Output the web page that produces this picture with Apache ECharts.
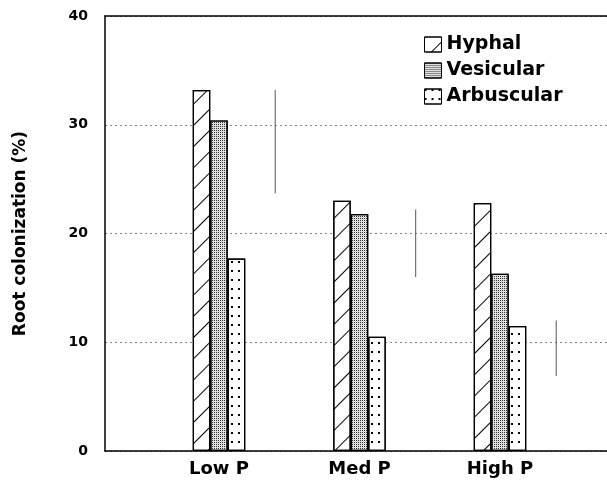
<!DOCTYPE html>
<html>
<head>
<meta charset="utf-8">
<script src="https://cdn.jsdelivr.net/npm/echarts@6/dist/echarts.min.js"></script>
<style>html,body{margin:0;padding:0;background:#fff}#c{width:607px;height:480px}</style>
</head>
<body>
<div id="c"></div>
<script>
var categories = ['Low P', 'Med P', 'High P'];
var hyphal = [33.2, 23.0, 22.8];
var vesicular = [30.4, 21.8, 16.3];
var arbuscular = [17.7, 10.5, 11.5];
var lsdLow = [23.7, 16.0, 6.9];
var lsdHigh = [33.2, 22.2, 12.0];
var yTicks = [0, 10, 20, 30, 40];
var seriesNames = ['Hyphal', 'Vesicular', 'Arbuscular'];
var FONT = 'DejaVu Sans';

var chart = echarts.init(document.getElementById('c'), null, {renderer: 'canvas'});

var barStyle = function (decal) {
  return {color: '#fff', borderColor: '#000', borderWidth: 1.2, decal: decal};
};
var decals = [
  {symbol: 'rect', symbolSize: 1, dashArrayX: [1, 0], dashArrayY: [1, 13.5], rotation: -Math.PI / 4, color: '#000'},
  {symbol: 'rect', symbolSize: 1, dashArrayX: [1, 1], dashArrayY: [1, 1], color: '#333', backgroundColor: 'rgba(0,0,0,0.12)'},
  {symbol: 'rect', symbolSize: 1, dashArrayX: [1.3, 5], dashArrayY: [1.3, 6.5], color: '#000'}
];
var dataSets = [hyphal, vesicular, arbuscular];

var series = seriesNames.map(function (n, i) {
  return {
    name: n, type: 'bar', xAxisIndex: 2, yAxisIndex: 1,
    barWidth: 17.5, barGap: '0%',
    itemStyle: barStyle(decals[i]),
    data: dataSets[i]
  };
});
series.push({
  type: 'custom', xAxisIndex: 2, yAxisIndex: 1, silent: true,
  data: categories.map(function (c, i) { return [i, lsdLow[i], lsdHigh[i]]; }),
  encode: {x: 0, y: [1, 2]},
  renderItem: function (params, api) {
    var band = api.size([1, 0])[0];
    var p1 = api.coord([api.value(0), api.value(1)]);
    var p2 = api.coord([api.value(0), api.value(2)]);
    var off = band * 0.4;
    return {type: 'line', shape: {x1: p1[0] + off, y1: p1[1], x2: p2[0] + off, y2: p2[1]},
      style: {stroke: '#555', lineWidth: 1}};
  }
});

chart.setOption({
  animation: false,
  backgroundColor: '#fff',
  textStyle: {fontFamily: FONT},
  legend: {
    orient: 'vertical', left: 424, top: 35, icon: 'rect', padding: 0,
    itemWidth: 17, itemHeight: 15, itemGap: 7,
    data: seriesNames,
    textStyle: {fontFamily: FONT, fontWeight: 'bold', fontSize: 19, color: '#000', lineHeight: 19},
    itemStyle: {borderColor: '#000', borderWidth: 1}
  },
  grid: [
    {left: 105, right: -2, top: 16, bottom: 29},
    {left: 148.75, right: 36.75, top: 16, bottom: 29}
  ],
  xAxis: [
    {type: 'value', gridIndex: 0, min: 0, max: 1, position: 'bottom',
      axisLine: {show: true, lineStyle: {color: '#000', width: 1.5}},
      axisTick: {show: false}, axisLabel: {show: false}, splitLine: {show: false}},
    {type: 'value', gridIndex: 0, min: 0, max: 1, position: 'top',
      axisLine: {show: true, onZero: false, lineStyle: {color: '#000', width: 1.5}},
      axisTick: {show: false}, axisLabel: {show: false}, splitLine: {show: false}},
    {type: 'category', gridIndex: 1, data: categories,
      axisLine: {show: false}, axisTick: {show: false},
      axisLabel: {margin: 9, fontFamily: FONT, fontWeight: 'bold', fontSize: 18, color: '#000'}}
  ],
  yAxis: [
    {type: 'value', gridIndex: 0, min: yTicks[0], max: yTicks[yTicks.length - 1], interval: 10,
      axisLine: {show: true, lineStyle: {color: '#000', width: 1.5}},
      axisTick: {show: false},
      axisLabel: {margin: 17, fontFamily: FONT, fontWeight: 'bold', fontSize: 14, color: '#000'},
      splitLine: {show: true, lineStyle: {color: '#888', type: [2, 3], width: 1}},
      name: 'Root colonization (%)', nameLocation: 'middle', nameGap: 76,
      nameTextStyle: {fontFamily: FONT, fontWeight: 'bold', fontSize: 17, color: '#000'}},
    {type: 'value', gridIndex: 1, min: 0, max: 40, interval: 10, show: false, splitLine: {show: false}}
  ],
  series: series
});
</script>
</body>
</html>
